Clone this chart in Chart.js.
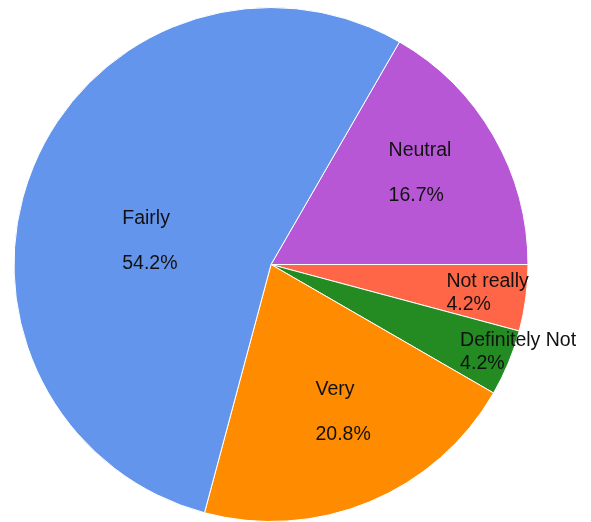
<!DOCTYPE html>
<html>
<head>
<meta charset="utf-8">
<script src="https://cdn.jsdelivr.net/npm/chart.js@4.4.1/dist/chart.umd.min.js"></script>
<style>
  html, body { margin: 0; padding: 0; background: #fff; }
  #wrap { width: 591px; height: 522px; }
</style>
</head>
<body>
<div id="wrap"><canvas id="pie"></canvas></div>
<script>
// answers, clockwise starting from Neutral
const answers = ["Neutral", "Not really", "Definitely Not", "Very", "Fairly"];
const counts = [4, 1, 1, 5, 13];
const sliceColors = ["#b857d6", "#ff6647", "#238b22", "#ff8c00", "#6495ed"];

// where each label sits: fraction of radius along the slice, angle nudge (deg), gap line between name and %
const labelPlace = [
  { r: 0.68, turn: -1.5, gap: true },
  { r: 0.85, turn: 0, gap: false },
  { r: 1.02, turn: -3, gap: false },
  { r: 0.64, turn: -3.5, gap: true },
  { r: 0.48, turn: -11.5, gap: true },
];

const total = counts.reduce((a, b) => a + b, 0);

const sliceLabels = {
  id: "sliceLabels",
  afterDatasetsDraw(chart) {
    const ctx = chart.ctx;
    const arcs = chart.getDatasetMeta(0).data;
    ctx.save();
    ctx.font = "19.5px 'Liberation Sans', Arial, sans-serif";
    ctx.fillStyle = "#111";
    ctx.textAlign = "left";
    ctx.textBaseline = "middle";
    const lineH = 22.5;
    arcs.forEach((arc, i) => {
      const p = arc.getProps(["x", "y", "startAngle", "endAngle", "outerRadius"], true);
      const place = labelPlace[i];
      const mid = (p.startAngle + p.endAngle) / 2 + (place.turn * Math.PI) / 180;
      const cx = p.x + Math.cos(mid) * p.outerRadius * place.r;
      const cy = p.y + Math.sin(mid) * p.outerRadius * place.r;
      const pct = ((counts[i] / total) * 100).toFixed(1) + "%";
      const lines = place.gap ? [answers[i], "", pct] : [answers[i], pct];
      const w = Math.max(...lines.map((l) => ctx.measureText(l).width));
      const x0 = cx - w / 2;
      const y0 = cy - ((lines.length - 1) * lineH) / 2;
      lines.forEach((l, k) => {
        if (l) ctx.fillText(l, x0, y0 + k * lineH);
      });
    });
    ctx.restore();
  },
};

new Chart(document.getElementById("pie"), {
  type: "pie",
  data: {
    labels: answers,
    datasets: [
      {
        data: counts,
        backgroundColor: sliceColors,
        borderColor: "#ffffff",
        borderWidth: 1,
      },
    ],
  },
  options: {
    responsive: true,
    maintainAspectRatio: false,
    animation: false,
    rotation: 30,
    layout: { padding: { left: 13, right: 62, top: 7, bottom: -1 } },
    plugins: {
      legend: { display: false },
      tooltip: { enabled: false },
    },
  },
  plugins: [sliceLabels],
});
</script>
</body>
</html>
